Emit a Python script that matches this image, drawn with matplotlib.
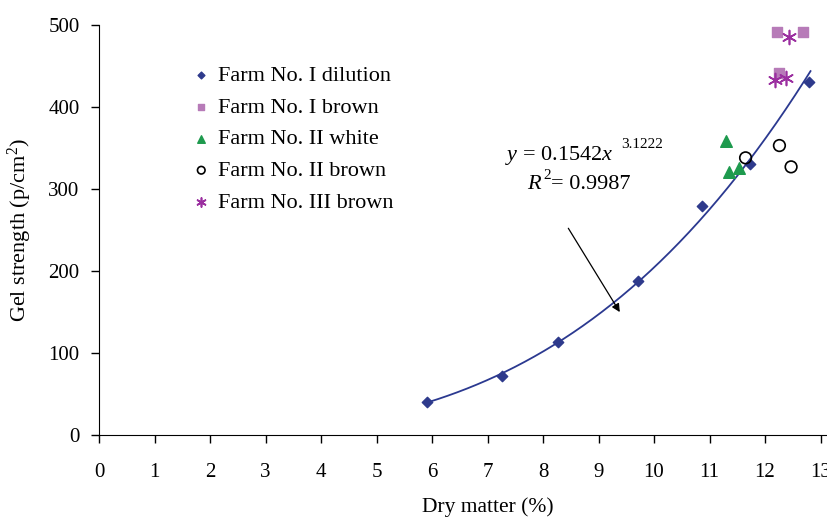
import matplotlib.pyplot as plt
import numpy as np

plt.rcParams['font.family'] = ['Liberation Serif', 'DejaVu Serif']
plt.rcParams['mathtext.fontset'] = 'custom'
plt.rcParams['mathtext.it'] = 'Liberation Serif:italic'
plt.rcParams['mathtext.rm'] = 'Liberation Serif'

# dry matter (%) / gel strength (p/cm2) per farm
dil_x = [5.91, 7.26, 8.27, 9.71, 10.86, 11.73, 12.79]
dil_y = [40, 72, 113, 188, 279, 330, 430]
f1b_x = [12.22, 12.68, 12.25]
f1b_y = [491, 491, 441]
f2w_x = [11.29, 11.35, 11.53]
f2w_y = [358, 321, 325]
f2b_x = [11.65, 12.26, 12.47]
f2b_y = [338, 353, 327]
f3b_x = [12.43, 12.18, 12.38]
f3b_y = [485, 433, 435]

# power fit y = a * x^b
fit_a, fit_b = 0.1542, 3.1222

fig = plt.figure(figsize=(8.27, 5.24), dpi=100)
# x axis runs 0..14, right part falls off the canvas
ax = fig.add_axes([99/827, 89/524, 777/827, 410/524])

xs = np.linspace(5.9, 12.82, 200)
ax.plot(xs, fit_a * xs**fit_b, color='#2b3990', lw=1.3, zorder=2)

ax.scatter(dil_x, dil_y, marker='D', s=28, color='#2e3a8c', zorder=3, label='Farm No. I dilution')
ax.scatter(f1b_x, f1b_y, marker='s', s=55, color='#b77bb8', zorder=3, label='Farm No. I brown')
ax.scatter(f2w_x, f2w_y, marker='^', s=70, color='#1e9a4e', zorder=3, label='Farm No. II white')
ax.scatter(f2b_x, f2b_y, marker='o', s=70, facecolors='none', edgecolors='black', lw=1.2, zorder=3, label='Farm No. II brown')
ax.scatter(f3b_x, f3b_y, marker=(6, 2, 0), s=100, color='#9b2fa0', lw=1.2, zorder=3, label='Farm No. III brown')

leg = ax.legend(loc='upper left', bbox_to_anchor=(0.093, 0.95), frameon=False, fontsize=16,
                handletextpad=0.3, labelspacing=0.5, markerscale=0.65, handlelength=0.9)

eq_kw = dict(ha='left', va='center')
ax.text(7.32, 341, r'$y$ = 0.1542$x$', fontsize=16, **eq_kw)
ax.text(9.41, 354, '3.1222', fontsize=11, **eq_kw)
ax.text(7.71, 306, r'$R$', fontsize=16, **eq_kw)
ax.text(8.0, 316, '2', fontsize=11, **eq_kw)
ax.text(8.14, 306, '= 0.9987', fontsize=16, **eq_kw)
ax.annotate('', xy=(9.41, 147), xytext=(8.43, 255),
            arrowprops=dict(arrowstyle='-|>', color='black', lw=0.9, mutation_scale=12))

ax.set_xlim(0, 14)
ax.set_ylim(0, 500)
ax.set_xticks(range(0, 15))
ax.set_yticks(range(0, 501, 100))
ax.spines['top'].set_visible(False)
ax.spines['right'].set_visible(False)
ax.tick_params(labelsize=15, direction='out', length=6, width=1)
ax.tick_params(axis='x', pad=14)
ax.tick_params(axis='y', pad=8)
ax.set_xlabel('Dry matter (%)', fontsize=15.5, labelpad=11)
ax.set_ylabel('Gel strength (p/cm$^2$)', fontsize=16, labelpad=10)

fig.savefig('out.png', dpi=100)
